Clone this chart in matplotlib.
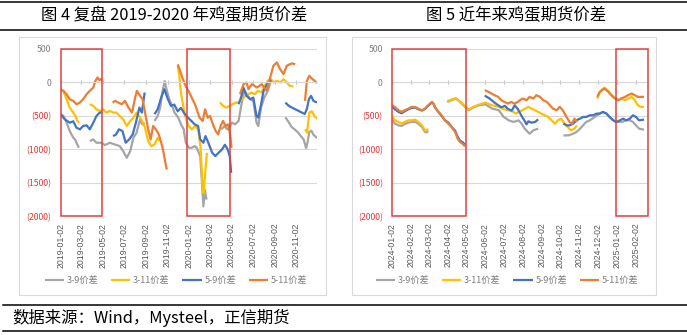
import matplotlib
matplotlib.use("Agg")
import pandas as pd
import matplotlib.pyplot as plt
import matplotlib.dates as mdates
from matplotlib.patches import Rectangle
from matplotlib.lines import Line2D

plt.rcParams['font.family'] = ['Noto Sans CJK SC', 'DejaVu Sans']

names = ["3-9价差", "3-11价差", "5-9价差", "5-11价差"]
colors = ["#A5A5A5", "#FFC000", "#4472C4", "#ED7D31"]

# ---- 图4: 2019-2020 (None = 合约断档) ----
l39_d = ["2019-01-02", "2019-01-10", "2019-01-19", "2019-01-28", "2019-02-07", "2019-02-12", "2019-02-16", "2019-02-23", None,
         "2019-03-26", "2019-04-05", "2019-04-14", "2019-04-28", "2019-05-08", "2019-05-22", "2019-06-05", "2019-06-19",
         "2019-06-29", "2019-07-09", "2019-07-19", "2019-07-28", "2019-08-06", "2019-08-16", "2019-08-22", "2019-08-29", None,
         "2019-09-26", "2019-10-05", "2019-10-12", "2019-10-18", "2019-10-25", "2019-10-31", "2019-11-07", "2019-11-15",
         "2019-11-22", "2019-12-02", "2019-12-10", "2019-12-18", "2019-12-24", "2020-01-02", "2020-01-10", "2020-01-18",
         "2020-01-24", "2020-02-03", "2020-02-08", "2020-02-12", "2020-02-16", "2020-02-21", None,
         "2020-04-03", "2020-04-12", "2020-04-20", "2020-04-26", "2020-05-03", "2020-05-12", "2020-05-22", "2020-06-01",
         "2020-06-08", "2020-06-14", "2020-06-24", "2020-07-03", "2020-07-12", "2020-07-17", "2020-07-25", "2020-08-03",
         "2020-08-13", "2020-08-22", None,
         "2020-10-02", "2020-10-10", "2020-10-19", "2020-10-28", "2020-11-06", "2020-11-15", "2020-11-23", "2020-11-30",
         "2020-12-04", "2020-12-09", "2020-12-15", "2020-12-21", "2020-12-31"]
l39_v = [-470, -500, -600, -725, -825, -850, -900, -975, None,
         -875, -850, -900, -900, -935, -900, -925, -950, -1025, -1125, -1025, -825, -750, -550, -625, -600, None,
         -575, -500, -380, -150, 20, -120, -250, -350, -450, -520, -620, -700, -900, -975, -975, -950,
         -975, -1100, -1500, -1850, -1600, -1750, None,
         -700, -650, -700, -675, -600, -625, -575, -275, -125, -175, -250, -275, -600, -650, -375, -225, -125, 25, None,
         -520, -580, -660, -700, -740, -800, -850, -980, -900, -740, -720, -780, -830]

l311_d = ["2019-01-02", "2019-01-10", "2019-01-19", "2019-01-28", "2019-02-07", "2019-02-13", "2019-02-19", "2019-02-24", None,
          "2019-03-26", "2019-04-05", "2019-04-14", "2019-04-23", "2019-05-03", "2019-05-12", "2019-05-22", "2019-06-01",
          "2019-06-10", "2019-06-19", "2019-06-29", "2019-07-09", "2019-07-19", "2019-07-28", "2019-08-06", "2019-08-16",
          "2019-08-22", "2019-08-30", "2019-09-08", "2019-09-17", "2019-09-26", "2019-10-05", "2019-10-10", None,
          "2019-12-01", "2019-12-05", "2019-12-10", "2019-12-15", "2019-12-22", "2020-01-01", "2020-01-10", "2020-01-20",
          "2020-01-28", "2020-02-04", "2020-02-09", "2020-02-13", "2020-02-17", "2020-02-22", None,
          "2020-03-30", "2020-04-08", "2020-04-17", "2020-04-26", "2020-05-05", "2020-05-14", "2020-05-23", "2020-06-01",
          "2020-06-10", "2020-06-19", "2020-06-28", "2020-07-07", "2020-07-16", "2020-07-26", "2020-08-04", "2020-08-13",
          "2020-08-22", "2020-08-31", "2020-09-09", "2020-09-18", "2020-09-27", "2020-10-06", "2020-10-14", "2020-10-25", None,
          "2020-11-27", "2020-12-03", "2020-12-09", "2020-12-16", "2020-12-24", "2020-12-31"]
l311_v = [-100, -125, -250, -375, -450, -500, -575, -600, None,
          -325, -350, -400, -425, -400, -450, -425, -450, -450, -500, -550, -650, -575, -525, -450, -525,
          -575, -675, -875, -950, -925, -825, -875, None,
          250, 130, -150, -300, -500, -650, -700, -650, -700, -975, -1500, -1650, -1350, -1050, None,
          -300, -350, -375, -350, -325, -300, -300, -250, -200, -175, -150, -175, -125, -150, -50, 25,
          50, 0, 25, 0, 50, 0, -50, -60, None,
          -700, -750, -450, -430, -500, -545]

l59_d = ["2019-01-02", "2019-01-14", "2019-01-28", "2019-02-07", "2019-02-16", "2019-02-26", "2019-03-07", "2019-03-17",
         "2019-03-26", "2019-04-05", "2019-04-14", "2019-04-23", "2019-04-30", None,
         "2019-05-31", "2019-06-08", "2019-06-17", "2019-06-27", "2019-07-06", "2019-07-16", "2019-07-26", "2019-08-04",
         "2019-08-14", "2019-08-21", "2019-08-29", None,
         "2019-09-26", "2019-10-05", "2019-10-15", "2019-10-24", "2019-11-03", "2019-11-12", "2019-11-21", "2019-12-01",
         "2019-12-10", "2019-12-21", "2019-12-30", "2020-01-09", "2020-01-18", "2020-01-28", "2020-02-03", "2020-02-12",
         "2020-02-18", "2020-02-26", "2020-03-08", "2020-03-17", "2020-03-26", "2020-04-05", "2020-04-13", "2020-04-21",
         "2020-04-27", "2020-05-01", None,
         "2020-05-22", "2020-05-29", "2020-06-05", "2020-06-14", "2020-06-24", "2020-07-03", "2020-07-12", "2020-07-17",
         "2020-07-25", "2020-08-01", "2020-08-11", "2020-08-20", "2020-08-23", None,
         "2020-10-02", "2020-10-12", "2020-10-21", "2020-10-30", "2020-11-09", "2020-11-18", "2020-11-26", "2020-12-02",
         "2020-12-08", "2020-12-14", "2020-12-21", "2020-12-31"]
l59_v = [-475, -550, -600, -580, -675, -700, -650, -640, -700, -600, -500, -450, -450, None,
         -800, -780, -700, -725, -900, -850, -775, -600, -375, -450, -150, None,
         -475, -400, -225, -100, -250, -350, -330, -430, -380, -470, -525, -575, -625, -650, -850, -900,
         -800, -900, -1050, -1100, -1050, -1000, -930, -1000, -1100, -1350, None,
         -325, -225, -75, -200, -250, -225, -500, -525, -325, -125, -25, 25, 40, None,
         -300, -350, -375, -400, -425, -450, -470, -400, -250, -200, -275, -300]

l511_d = ["2019-01-02", "2019-01-10", "2019-01-19", "2019-01-28", "2019-02-07", "2019-02-16", "2019-02-26", "2019-03-07",
          "2019-03-17", "2019-03-26", "2019-04-05", "2019-04-11", "2019-04-17", "2019-04-22", "2019-04-26", "2019-04-30", None,
          "2019-05-30", "2019-06-06", "2019-06-15", "2019-06-25", "2019-07-04", "2019-07-14", "2019-07-24", "2019-08-02",
          "2019-08-07", "2019-08-16", "2019-08-23", "2019-08-31", "2019-09-08", "2019-09-15", "2019-09-22", "2019-09-30",
          "2019-10-08", "2019-10-14", "2019-10-21", "2019-10-26", "2019-10-31", None,
          "2019-12-01", "2019-12-08", "2019-12-15", "2019-12-24", "2020-01-03", "2020-01-12", "2020-01-21", "2020-02-01",
          "2020-02-10", "2020-02-17", "2020-02-24", "2020-03-02", "2020-03-10", "2020-03-18", "2020-03-25", "2020-04-01",
          "2020-04-08", "2020-04-15", "2020-04-22", "2020-04-28", "2020-05-02", None,
          "2020-05-26", "2020-06-05", "2020-06-14", "2020-06-19", "2020-06-29", "2020-07-13", "2020-07-27", "2020-08-10",
          "2020-08-20", "2020-08-29", "2020-09-08", "2020-09-17", "2020-09-27", "2020-10-06", "2020-10-16", "2020-10-22",
          "2020-10-30", None,
          "2020-11-27", "2020-12-02", "2020-12-09", "2020-12-16", "2020-12-23", "2020-12-31"]
l511_v = [-115, -125, -175, -250, -275, -325, -300, -250, -175, -125, -75, 25, 75, 35, 50, 30, None,
          -300, -275, -300, -325, -275, -375, -450, -225, -125, -200, -250, -475, -700, -850, -650, -700,
          -775, -875, -1025, -1175, -1300, None,
          270, 170, 60, -60, -150, -250, -350, -525, -575, -400, -525, -500, -625, -725, -775, -650,
          -575, -650, -625, -775, -975, None,
          -175, -25, 0, -100, -25, -75, -25, -125, 75, 250, 300, 200, 125, 250, 275, 285, 270, None,
          -275, 20, 100, 60, 30, -10]

# ---- 图5: 2024-2025 ----
r39_d = ["2024-01-02", "2024-01-07", "2024-01-13", "2024-01-18", "2024-01-23", "2024-01-29", "2024-02-03", "2024-02-09",
         "2024-02-14", "2024-02-20", "2024-02-25", "2024-02-28", "2024-03-01", None,
         "2024-04-01", "2024-04-08", "2024-04-15", "2024-04-22", "2024-04-30", "2024-05-06", "2024-05-13", "2024-05-23",
         "2024-06-02", "2024-06-13", "2024-06-24", "2024-07-02", "2024-07-10", "2024-07-18", "2024-07-26", "2024-07-31",
         "2024-08-05", "2024-08-13", "2024-08-19", "2024-08-27", None,
         "2024-10-07", "2024-10-15", "2024-10-23", "2024-10-28", "2024-11-03", "2024-11-08", "2024-11-13", "2024-11-19",
         "2024-11-27", "2024-12-05", "2024-12-10", "2024-12-16", "2024-12-21", "2024-12-27", "2025-01-01", "2025-01-10",
         "2025-01-17", "2025-01-23", "2025-01-28", "2025-02-02", "2025-02-07", "2025-02-15"]
r39_v = [-540, -615, -640, -650, -620, -600, -590, -590, -615, -665, -740, -745, -720, None,
         -290, -265, -240, -290, -365, -415, -375, -340, -325, -390, -415, -515, -565, -590, -565, -615,
         -690, -765, -715, -690, None,
         -790, -790, -765, -740, -690, -640, -590, -565, -515, -465, -440, -465, -515, -565, -590, -590,
         -565, -565, -590, -640, -690, -705]

r311_d = ["2024-01-02", "2024-01-07", "2024-01-13", "2024-01-18", "2024-01-23", "2024-01-29", "2024-02-03", "2024-02-09",
          "2024-02-14", "2024-02-20", "2024-02-25", "2024-02-28", "2024-03-01", None,
          "2024-04-01", "2024-04-08", "2024-04-15", "2024-04-22", "2024-04-30", "2024-05-06", "2024-05-13", "2024-05-23",
          "2024-06-02", "2024-06-13", "2024-06-24", "2024-07-02", "2024-07-10", "2024-07-18", "2024-07-22", "2024-07-26",
          "2024-08-01", "2024-08-06", "2024-08-11", "2024-08-16", "2024-08-22", "2024-08-27", "2024-09-01", "2024-09-07",
          "2024-09-12", "2024-09-18", "2024-09-23", "2024-09-28", "2024-10-03", "2024-10-09", "2024-10-14", "2024-10-19",
          "2024-10-25", "2024-10-29", None,
          "2024-12-01", "2024-12-05", "2024-12-09", "2024-12-13", "2024-12-19", "2024-12-24", "2024-12-30", "2025-01-04",
          "2025-01-09", "2025-01-15", "2025-01-20", "2025-01-26", "2025-01-31", "2025-02-05", "2025-02-10", "2025-02-15"]
r311_v = [-490, -565, -590, -615, -590, -565, -565, -555, -590, -640, -715, -715, -690, None,
          -280, -255, -235, -285, -355, -405, -365, -330, -300, -340, -365, -400, -415, -440, -465, -440,
          -415, -390, -365, -390, -415, -440, -465, -490, -515, -565, -615, -565, -540, -615, -665, -715,
          -690, -640, None,
          -240, -150, -100, -80, -130, -190, -240, -265, -240, -265, -240, -215, -265, -340, -365, -365]

r59_d = ["2024-01-02", "2024-01-07", "2024-01-13", "2024-01-18", "2024-01-23", "2024-01-29", "2024-02-03", "2024-02-09",
         "2024-02-14", "2024-02-20", "2024-02-25", "2024-03-01", "2024-03-07", "2024-03-10", "2024-03-12", "2024-03-18",
         "2024-03-23", "2024-03-28", "2024-04-03", "2024-04-08", "2024-04-14", "2024-04-18", "2024-04-22", "2024-04-26",
         "2024-04-30", None,
         "2024-06-01", "2024-06-09", "2024-06-17", "2024-06-23", "2024-06-28", "2024-07-04", "2024-07-09", "2024-07-15",
         "2024-07-20", "2024-07-25", "2024-07-31", "2024-08-05", "2024-08-08", "2024-08-11", "2024-08-16", "2024-08-22",
         "2024-08-27", None,
         "2024-10-07", "2024-10-12", "2024-10-17", "2024-10-23", "2024-10-28", "2024-11-03", "2024-11-08", "2024-11-13",
         "2024-11-19", "2024-11-24", "2024-11-30", "2024-12-05", "2024-12-10", "2024-12-16", "2024-12-21", "2024-12-27",
         "2025-01-01", "2025-01-07", "2025-01-12", "2025-01-17", "2025-01-23", "2025-01-28", "2025-02-02", "2025-02-07",
         "2025-02-15"]
r59_v = [-360, -400, -440, -460, -430, -400, -380, -375, -400, -420, -395, -350, -300, -320, -370, -445,
         -500, -560, -600, -660, -720, -810, -870, -890, -930, None,
         -195, -240, -300, -340, -370, -350, -395, -420, -340, -400, -500, -575, -625, -580, -600, -590, -550, None,
         -615, -640, -640, -615, -565, -540, -515, -515, -490, -490, -465, -465, -440, -465, -515, -565,
         -590, -565, -540, -565, -540, -490, -515, -565, -555]

r511_d = ["2024-01-02", "2024-01-07", "2024-01-13", "2024-01-18", "2024-01-23", "2024-01-29", "2024-02-03", "2024-02-09",
          "2024-02-14", "2024-02-20", "2024-02-25", "2024-03-01", "2024-03-07", "2024-03-10", "2024-03-12", "2024-03-18",
          "2024-03-23", "2024-03-28", "2024-04-03", "2024-04-08", "2024-04-14", "2024-04-18", "2024-04-22", "2024-04-26",
          "2024-04-30", None,
          "2024-06-01", "2024-06-07", "2024-06-12", "2024-06-17", "2024-06-23", "2024-06-28", "2024-07-03", "2024-07-09",
          "2024-07-14", "2024-07-19", "2024-07-25", "2024-07-28", "2024-08-02", "2024-08-08", "2024-08-13", "2024-08-19",
          "2024-08-24", "2024-08-30", "2024-09-04", "2024-09-10", "2024-09-15", "2024-09-20", "2024-09-26", "2024-10-01",
          "2024-10-06", "2024-10-12", "2024-10-17", "2024-10-21", "2024-10-25", "2024-10-29", None,
          "2024-12-01", "2024-12-05", "2024-12-09", "2024-12-13", "2024-12-19", "2024-12-24", "2024-12-30", "2025-01-04",
          "2025-01-09", "2025-01-15", "2025-01-20", "2025-01-26", "2025-01-31", "2025-02-05", "2025-02-10", "2025-02-15"]
r511_v = [-340, -365, -415, -440, -415, -390, -365, -365, -390, -415, -390, -340, -290, -315, -365, -440,
          -490, -565, -615, -665, -740, -840, -890, -915, -955, None,
          -115, -140, -165, -190, -215, -265, -290, -315, -290, -315, -290, -265, -240, -265, -215, -240,
          -190, -215, -265, -290, -340, -390, -415, -365, -415, -515, -590, -615, -540, -590, None,
          -215, -140, -115, -90, -140, -190, -240, -265, -240, -215, -190, -165, -190, -215, -215, -215]

left_ticks = ["2019-01-02", "2019-03-02", "2019-05-02", "2019-07-02", "2019-09-02", "2019-11-02",
              "2020-01-02", "2020-03-02", "2020-05-02", "2020-07-02", "2020-09-02", "2020-11-02"]
right_ticks = ["2024-01-02", "2024-02-02", "2024-03-02", "2024-04-02", "2024-05-02", "2024-06-02", "2024-07-02",
               "2024-08-02", "2024-09-02", "2024-10-02", "2024-11-02", "2024-12-02", "2025-01-02", "2025-02-02"]
y_ticks = [-2000, -1500, -1000, -500, 0, 500]
y_labels = ["(2000)", "(1500)", "(1000)", "(500)", "0", "500"]

left_boxes = [("2019-01-02", "2019-05-01"), ("2019-12-26", "2020-04-28")]
right_boxes = [("2024-01-02", "2024-05-01"), ("2025-01-01", "2025-02-21")]


def segments(dates, vals):
    sd, sv = [], []
    for d, v in zip(dates, vals):
        if v is None:
            if sd:
                yield pd.to_datetime(sd), sv
            sd, sv = [], []
        else:
            sd.append(d)
            sv.append(v)
    if sd:
        yield pd.to_datetime(sd), sv


def draw_panel(ax, series, xmin, xmax, ticks, boxes):
    for (d, v), c, n in zip(series, colors, names):
        first = True
        for sd, sv in segments(d, v):
            ax.plot(sd, sv, color=c, lw=1.6, label=n if first else None,
                    solid_joinstyle='round', solid_capstyle='butt')
            first = False
    ax.set_xlim(pd.Timestamp(xmin), pd.Timestamp(xmax))
    ax.set_ylim(-2000, 500)
    for s in ax.spines.values():
        s.set_visible(False)
    # 横轴在0处穿过
    ax.spines['top'].set_visible(True)
    ax.spines['top'].set_position(('data', 0))
    ax.spines['top'].set_color('#D9D9D9')
    ax.spines['top'].set_linewidth(0.8)
    ax.tick_params(axis='x', bottom=False, top=True, labeltop=False, labelbottom=True,
                   direction='inout', length=3, color='#BFBFBF', pad=3)
    ax.tick_params(axis='y', length=0, pad=6.5)
    ax.grid(axis='y', color='#D9D9D9', lw=0.8)
    ax.set_axisbelow(True)

    ax.set_yticks(y_ticks)
    ax.set_yticklabels(y_labels, fontsize=6.3)
    for lab, val in zip(ax.get_yticklabels(), y_ticks):
        lab.set_color('#E03A3A' if val < 0 else '#7F7F7F')
    ax.set_xticks(pd.to_datetime(ticks))
    ax.set_xticklabels(ticks)
    for lab in ax.get_xticklabels():
        lab.set_rotation(90)
        lab.set_fontsize(6.3)
        lab.set_color('#595959')
        lab.set_family(['Liberation Sans', 'DejaVu Sans'])
    for b0, b1 in boxes:
        x0 = mdates.date2num(pd.Timestamp(b0))
        x1 = mdates.date2num(pd.Timestamp(b1))
        ax.add_patch(Rectangle((x0, -2000), x1 - x0, 2500, fill=False, ec='#E04040',
                               lw=1.1, clip_on=False, zorder=5))


W, H = 687, 335
fig = plt.figure(figsize=(W / 100, H / 100), dpi=100)

# 面板外框
fig.add_artist(Rectangle((19 / W, 40 / H), 307 / W, 258 / H, transform=fig.transFigure,
                         fill=False, ec='#D9D9D9', lw=0.8))
fig.add_artist(Rectangle((352 / W, 40 / H), 304 / W, 258 / H, transform=fig.transFigure,
                         fill=False, ec='#D9D9D9', lw=0.8))

ax1 = fig.add_axes([60.6 / W, 118.6 / H, 256.4 / W, 167.4 / H])
ax2 = fig.add_axes([391.8 / W, 118.6 / H, 255.9 / W, 167.4 / H])

draw_panel(ax1, [(l39_d, l39_v), (l311_d, l311_v), (l59_d, l59_v), (l511_d, l511_v)],
           "2019-01-02", "2020-12-31", left_ticks, left_boxes)
draw_panel(ax2, [(r39_d, r39_v), (r311_d, r311_v), (r59_d, r59_v), (r511_d, r511_v)],
           "2024-01-02", "2025-02-21", right_ticks, right_boxes)

for ax, cx in [(ax1, 176), (ax2, 507)]:
    leg = ax.legend(loc='center', bbox_to_anchor=(cx / W, 1 - 281 / H), bbox_transform=fig.transFigure,
                    ncol=4, frameon=False, fontsize=6.6, handlelength=2.1, handletextpad=0.3,
                    columnspacing=1.4, borderpad=0)
    for t in leg.get_texts():
        t.set_color('#7F7F7F')

# 标题
fig.text(174 / W, 1 - 15.5 / H, "图 4 复盘 2019-2020 年鸡蛋期货价差", ha='center', va='center', fontsize=11.8)
fig.text(516 / W, 1 - 15.5 / H, "图 5 近年来鸡蛋期货价差", ha='center', va='center', fontsize=11.8)

for y in [2, 29.5]:
    fig.add_artist(Line2D([0, 1], [1 - y / H, 1 - y / H], transform=fig.transFigure, color='black', lw=1.1))
for y in [304.5, 330.5]:
    fig.add_artist(Line2D([3 / W, 1], [1 - y / H, 1 - y / H], transform=fig.transFigure, color='black', lw=1.1))

fig.text(12 / W, 1 - 317.5 / H, "数据来源：Wind，Mysteel，正信期货", ha='left', va='center', fontsize=11.8)

fig.savefig("out.png", dpi=100)
